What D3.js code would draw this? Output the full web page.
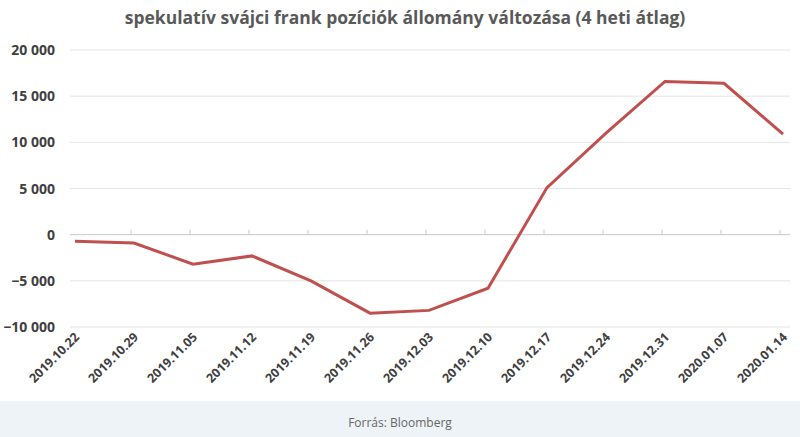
<!DOCTYPE html>
<html><head><meta charset="utf-8">
<script src="https://cdn.jsdelivr.net/npm/d3@7"></script>
<style>body{margin:0;background:#fff;font-family:"Open Sans",sans-serif}</style>
</head><body>
<script>
// chart data
const dates = ["2019.10.22","2019.10.29","2019.11.05","2019.11.12","2019.11.19","2019.11.26","2019.12.03","2019.12.10","2019.12.17","2019.12.24","2019.12.31","2020.01.07","2020.01.14"];
const values = [-700, -900, -3200, -2300, -5000, -8500, -8200, -5800, 5100, 11000, 16600, 16400, 10900];
const yTicks = [-10000, -5000, 0, 5000, 10000, 15000, 20000];

const width = 800, height = 437;
const svg = d3.select("body").append("svg").attr("width", width).attr("height", height);

// footer band
svg.append("rect").attr("x", 0).attr("y", 401).attr("width", width).attr("height", 36).attr("fill", "#eef3f7");
svg.append("text").attr("x", 400).attr("y", 427).attr("text-anchor", "middle")
    .attr("font-size", 12).attr("fill", "#666").text("Forrás: Bloomberg");

svg.append("text").attr("x", 405).attr("y", 24).attr("text-anchor", "middle")
    .attr("font-size", 17.5).attr("font-weight", "bold").attr("fill", "#595959")
    .text("spekulatív svájci frank pozíciók állomány változása (4 heti átlag)");

const x = d3.scalePoint().domain(dates).range([75, 783]);
const y = d3.scaleLinear().domain([-10000, 20000]).range([327, 50]);
const fmt = d => d3.format(",")(d).replace(/,/g, " ");

// gridlines
svg.append("g").selectAll("line").data(yTicks).join("line")
    .attr("x1", 70).attr("x2", 790).attr("y1", d => y(d)).attr("y2", d => y(d))
    .attr("stroke", d => d === 0 ? "#c8c8c8" : "#e4e4e4").attr("stroke-width", 1);

svg.append("g").selectAll("text").data(yTicks).join("text")
    .attr("x", 55).attr("y", d => y(d) + 5).attr("text-anchor", "end")
    .attr("font-size", 14).attr("font-weight", "bold").attr("fill", "#404040").text(fmt);

// category ticks on zero line
svg.append("g").selectAll("line").data(dates.slice(1)).join("line")
    .attr("x1", d => x(d) - 3).attr("x2", d => x(d) - 3)
    .attr("y1", y(0)).attr("y2", y(0) - 5).attr("stroke", "#c8c8c8");

svg.append("g").selectAll("text").data(dates).join("text")
    .attr("transform", d => `translate(${x(d) + 5},${338}) rotate(-45)`)
    .attr("text-anchor", "end").attr("font-size", 12.5).attr("font-weight", "bold")
    .attr("fill", "#404040").text(d => d);

svg.append("path").datum(values)
    .attr("fill", "none").attr("stroke", "#c0504d").attr("stroke-width", 3)
    .attr("d", d3.line().x((d, i) => x(dates[i])).y(d => y(d)));
</script>
</body></html>
